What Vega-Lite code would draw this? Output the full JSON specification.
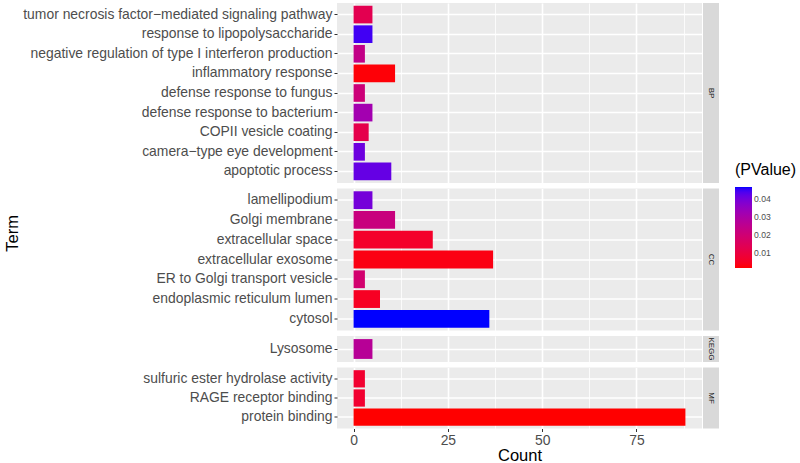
{
  "$schema": "https://vega.github.io/schema/vega-lite/v6.json",
  "background": "white",
  "padding": {"left": 4, "top": 3, "right": 0, "bottom": 2},
  "title": {"text": "Term", "orient": "left", "anchor": "middle", "fontSize": 16.5, "fontWeight": "normal", "color": "black", "font": "Liberation Sans", "offset": 1},
  "datasets": {
    "terms": [
      {"Category": "BP", "Term": "tumor necrosis factor−mediated signaling pathway", "Count": 5, "PValue": 0.013},
      {"Category": "BP", "Term": "response to lipopolysaccharide", "Count": 5, "PValue": 0.045},
      {"Category": "BP", "Term": "negative regulation of type I interferon production", "Count": 3, "PValue": 0.024},
      {"Category": "BP", "Term": "inflammatory response", "Count": 11, "PValue": 0.002},
      {"Category": "BP", "Term": "defense response to fungus", "Count": 3, "PValue": 0.021},
      {"Category": "BP", "Term": "defense response to bacterium", "Count": 5, "PValue": 0.032},
      {"Category": "BP", "Term": "COPII vesicle coating", "Count": 4, "PValue": 0.012},
      {"Category": "BP", "Term": "camera−type eye development", "Count": 3, "PValue": 0.041},
      {"Category": "BP", "Term": "apoptotic process", "Count": 10, "PValue": 0.042},
      {"Category": "CC", "Term": "lamellipodium", "Count": 5, "PValue": 0.04},
      {"Category": "CC", "Term": "Golgi membrane", "Count": 11, "PValue": 0.022},
      {"Category": "CC", "Term": "extracellular space", "Count": 21, "PValue": 0.006},
      {"Category": "CC", "Term": "extracellular exosome", "Count": 37, "PValue": 0.003},
      {"Category": "CC", "Term": "ER to Golgi transport vesicle", "Count": 3, "PValue": 0.019},
      {"Category": "CC", "Term": "endoplasmic reticulum lumen", "Count": 7, "PValue": 0.005},
      {"Category": "CC", "Term": "cytosol", "Count": 36, "PValue": 0.047},
      {"Category": "KEGG", "Term": "Lysosome", "Count": 5, "PValue": 0.027},
      {"Category": "MF", "Term": "sulfuric ester hydrolase activity", "Count": 3, "PValue": 0.007},
      {"Category": "MF", "Term": "RAGE receptor binding", "Count": 3, "PValue": 0.007},
      {"Category": "MF", "Term": "protein binding", "Count": 88, "PValue": 0.0015}
    ],
    "cats": [
      {"Category": "BP"}, {"Category": "CC"}, {"Category": "KEGG"}, {"Category": "MF"}
    ]
  },
  "spacing": 5.5,
  "vconcat": [
    {
      "spacing": 1,
      "hconcat": [
        {
          "data": {"name": "terms"},
          "transform": [{"filter": "datum.Category === 'BP'"}],
          "width": 365, "height": 180,
          "mark": {"type": "bar"},
          "encoding": {
            "y": {"field": "Term", "type": "nominal", "sort": null, "scale": {"paddingInner": 0.1, "paddingOuter": 0.14},
                  "axis": {"title": null, "grid": true, "gridWidth": 1.6, "bandPosition": 0.5, "labelLimit": 400, "minExtent": 315, "maxExtent": 315}},
            "x": {"field": "Count", "type": "quantitative", "scale": {"domain": [-4.4, 92.4], "nice": false},
                  "axis": {"title": null, "labels": false, "ticks": false, "values": [0, 12.5, 25, 37.5, 50, 62.5, 75, 87.5],
                           "gridWidth": {"condition": {"test": "datum.value % 25 !== 0", "value": 0.8}, "value": 1.6}}},
            "fill": {"field": "PValue", "type": "quantitative",
                     "scale": {"domain": [0.0015, 0.047], "range": ["#ff0000", "#0000ff"], "interpolate": "lab"},
                     "legend": {"orient": "none", "legendX": 398, "legendY": 159, "title": "(PValue)", "values": [0.01, 0.02, 0.03, 0.04], "format": ".2f"}}
          }
        },
        {
          "data": {"name": "cats"},
          "transform": [{"filter": "datum.Category === 'BP'"}],
          "width": 16, "height": 180,
          "view": {"fill": "#d9d9d9", "stroke": null},
          "mark": {"type": "text", "angle": 90, "fontSize": 8, "color": "#1a1a1a"},
          "encoding": {"text": {"field": "Category"}}
        }
      ]
    },
    {
      "spacing": 1,
      "hconcat": [
        {
          "data": {"name": "terms"},
          "transform": [{"filter": "datum.Category === 'CC'"}],
          "width": 365, "height": 142,
          "mark": {"type": "bar"},
          "encoding": {
            "y": {"field": "Term", "type": "nominal", "sort": null, "scale": {"paddingInner": 0.1, "paddingOuter": 0.14},
                  "axis": {"title": null, "grid": true, "gridWidth": 1.6, "bandPosition": 0.5, "labelLimit": 400, "minExtent": 315, "maxExtent": 315}},
            "x": {"field": "Count", "type": "quantitative", "scale": {"domain": [-4.4, 92.4], "nice": false},
                  "axis": {"title": null, "labels": false, "ticks": false, "values": [0, 12.5, 25, 37.5, 50, 62.5, 75, 87.5],
                           "gridWidth": {"condition": {"test": "datum.value % 25 !== 0", "value": 0.8}, "value": 1.6}}},
            "fill": {"field": "PValue", "type": "quantitative",
                     "scale": {"domain": [0.0015, 0.047], "range": ["#ff0000", "#0000ff"], "interpolate": "lab"},
                     "legend": {"orient": "none", "legendX": 398, "legendY": 159, "title": "(PValue)", "values": [0.01, 0.02, 0.03, 0.04], "format": ".2f"}}
          }
        },
        {
          "data": {"name": "cats"},
          "transform": [{"filter": "datum.Category === 'CC'"}],
          "width": 16, "height": 142,
          "view": {"fill": "#d9d9d9", "stroke": null},
          "mark": {"type": "text", "angle": 90, "fontSize": 8, "color": "#1a1a1a"},
          "encoding": {"text": {"field": "Category"}}
        }
      ]
    },
    {
      "spacing": 1,
      "hconcat": [
        {
          "data": {"name": "terms"},
          "transform": [{"filter": "datum.Category === 'KEGG'"}],
          "width": 365, "height": 26,
          "mark": {"type": "bar"},
          "encoding": {
            "y": {"field": "Term", "type": "nominal", "sort": null, "scale": {"paddingInner": 0.1, "paddingOuter": 0.14},
                  "axis": {"title": null, "grid": true, "gridWidth": 1.6, "bandPosition": 0.5, "labelLimit": 400, "minExtent": 315, "maxExtent": 315}},
            "x": {"field": "Count", "type": "quantitative", "scale": {"domain": [-4.4, 92.4], "nice": false},
                  "axis": {"title": null, "labels": false, "ticks": false, "values": [0, 12.5, 25, 37.5, 50, 62.5, 75, 87.5],
                           "gridWidth": {"condition": {"test": "datum.value % 25 !== 0", "value": 0.8}, "value": 1.6}}},
            "fill": {"field": "PValue", "type": "quantitative",
                     "scale": {"domain": [0.0015, 0.047], "range": ["#ff0000", "#0000ff"], "interpolate": "lab"},
                     "legend": {"orient": "none", "legendX": 398, "legendY": 159, "title": "(PValue)", "values": [0.01, 0.02, 0.03, 0.04], "format": ".2f"}}
          }
        },
        {
          "data": {"name": "cats"},
          "transform": [{"filter": "datum.Category === 'KEGG'"}],
          "width": 16, "height": 26,
          "view": {"fill": "#d9d9d9", "stroke": null},
          "mark": {"type": "text", "angle": 90, "fontSize": 8, "color": "#1a1a1a"},
          "encoding": {"text": {"field": "Category"}}
        }
      ]
    },
    {
      "spacing": 1,
      "hconcat": [
        {
          "data": {"name": "terms"},
          "transform": [{"filter": "datum.Category === 'MF'"}],
          "width": 365, "height": 61,
          "mark": {"type": "bar"},
          "encoding": {
            "y": {"field": "Term", "type": "nominal", "sort": null, "scale": {"paddingInner": 0.1, "paddingOuter": 0.14},
                  "axis": {"title": null, "grid": true, "gridWidth": 1.6, "bandPosition": 0.5, "labelLimit": 400, "minExtent": 315, "maxExtent": 315}},
            "x": {"field": "Count", "type": "quantitative", "scale": {"domain": [-4.4, 92.4], "nice": false},
                  "axis": {"title": "Count", "values": [0, 12.5, 25, 37.5, 50, 62.5, 75, 87.5], "labelOverlap": false,
                           "labelExpr": "datum.value % 25 === 0 ? datum.label : ''",
                           "tickOpacity": {"condition": {"test": "datum.value % 25 !== 0", "value": 0}, "value": 1},
                           "gridWidth": {"condition": {"test": "datum.value % 25 !== 0", "value": 0.8}, "value": 1.6}}},
            "fill": {"field": "PValue", "type": "quantitative",
                     "scale": {"domain": [0.0015, 0.047], "range": ["#ff0000", "#0000ff"], "interpolate": "lab"},
                     "legend": {"orient": "none", "legendX": 398, "legendY": 159, "title": "(PValue)", "values": [0.01, 0.02, 0.03, 0.04], "format": ".2f"}}
          }
        },
        {
          "data": {"name": "cats"},
          "transform": [{"filter": "datum.Category === 'MF'"}],
          "width": 16, "height": 61,
          "view": {"fill": "#d9d9d9", "stroke": null},
          "mark": {"type": "text", "angle": 90, "fontSize": 8, "color": "#1a1a1a"},
          "encoding": {"text": {"field": "Category"}}
        }
      ]
    }
  ],
  "config": {
    "font": "Liberation Sans",
    "view": {"fill": "#ebebeb", "stroke": null},
    "axis": {"gridColor": "white", "domain": false, "tickColor": "#333333", "tickSize": 3, "labelColor": "#4d4d4d", "labelFontSize": 13.9, "labelPadding": 2, "titleFontWeight": "normal", "titleColor": "black", "titleFontSize": 16.5, "titlePadding": 0},
    "legend": {"titleFontSize": 16, "titleFontWeight": "normal", "titleColor": "black", "titlePadding": 9, "gradientLength": 81, "gradientThickness": 17, "gradientStrokeWidth": 0, "labelFontSize": 8.6, "labelColor": "#4d4d4d", "labelOffset": 7}
  }
}
